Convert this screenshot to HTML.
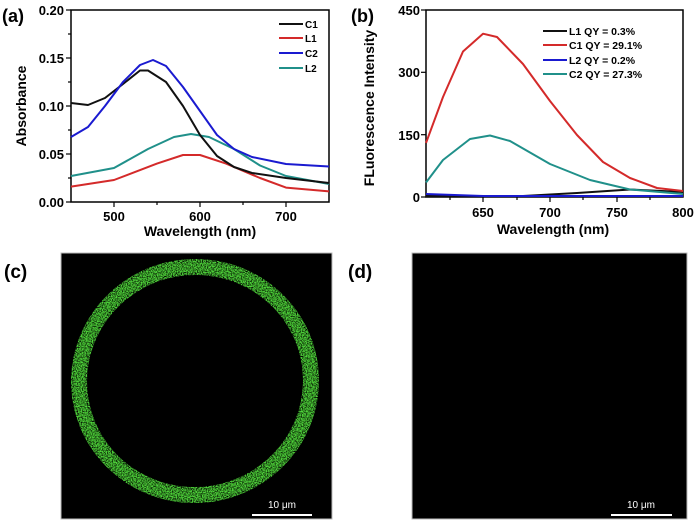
<!DOCTYPE html>
<html><head><meta charset="utf-8"><style>
body{margin:0;background:#fff;overflow:hidden;}
svg{display:block;font-family:"Liberation Sans",Arial,sans-serif;font-weight:bold;}
</style></head><body>
<svg width="700" height="520" viewBox="0 0 700 520" xmlns="http://www.w3.org/2000/svg">
<defs>
<filter id="grain" filterUnits="userSpaceOnUse" x="61" y="253" width="271" height="266">
<feTurbulence type="fractalNoise" baseFrequency="0.8" numOctaves="2" seed="3" result="n"/>
<feColorMatrix in="n" type="matrix" values="0 0 0 0 0  0 0 0 0 0  0 0 0 0 0  0 0 0 -3 2.1" result="m"/>
<feComposite in="SourceGraphic" in2="m" operator="in"/>
</filter>
</defs>
<!-- panel a -->
<text x="2" y="22" font-size="18">(a)</text>
<rect x="71" y="10" width="258" height="192" fill="none" stroke="#000" stroke-width="1.5"/>
<g stroke="#000" stroke-width="1.2">
<line x1="71" y1="202" x2="66" y2="202"/><line x1="71" y1="154" x2="66" y2="154"/><line x1="71" y1="106" x2="66" y2="106"/><line x1="71" y1="58" x2="66" y2="58"/><line x1="71" y1="10" x2="66" y2="10"/>
<line x1="71" y1="178" x2="68" y2="178"/><line x1="71" y1="130" x2="68" y2="130"/><line x1="71" y1="82" x2="68" y2="82"/><line x1="71" y1="34" x2="68" y2="34"/>
<line x1="114" y1="202" x2="114" y2="207"/><line x1="200" y1="202" x2="200" y2="207"/><line x1="286" y1="202" x2="286" y2="207"/>
<line x1="157" y1="202" x2="157" y2="205"/><line x1="243" y1="202" x2="243" y2="205"/>
</g>
<g font-size="13" text-anchor="end">
<text x="64" y="207">0.00</text><text x="64" y="159">0.05</text><text x="64" y="111">0.10</text><text x="64" y="63">0.15</text><text x="64" y="15">0.20</text>
</g>
<g font-size="13" text-anchor="middle">
<text x="114" y="221">500</text><text x="200" y="221">600</text><text x="286" y="221">700</text>
<text x="200" y="236" font-size="14">Wavelength (nm)</text>
</g>
<text transform="translate(26,106) rotate(-90)" font-size="14" text-anchor="middle">Absorbance</text>
<g fill="none" stroke-width="2" stroke-linejoin="round">
<polyline stroke="#d42a2a" points="71,186.6 114,180 157,163.6 183,155 200,155 226,163.6 260,178 286,187.6 329,191.4"/>
<polyline stroke="#20908a" points="71,176 114,168 148,149 174,137 191,134 209,137 234,149 260,165.5 286,176 329,184"/>
<polyline stroke="#111" points="71,103 88,105 105,98 123,84 140,70.5 148,70.5 166,82 183,106 200,135 217,156 234,167 252,173 286,178 329,183"/>
<polyline stroke="#1a1ad0" points="71,137 88,127 105,106 123,82 140,65 153,60 166,66 183,87 200,111 217,135 234,149 252,157 286,164 329,166.5"/>
</g>
<g stroke-width="2"><line x1="279" y1="24" x2="303" y2="24" stroke="#111"/><line x1="279" y1="38" x2="303" y2="38" stroke="#d42a2a"/><line x1="279" y1="53" x2="303" y2="53" stroke="#1a1ad0"/><line x1="279" y1="68" x2="303" y2="68" stroke="#20908a"/></g>
<g font-size="10"><text x="305" y="28">C1</text><text x="305" y="42">L1</text><text x="305" y="57">C2</text><text x="305" y="72">L2</text></g>
<!-- panel b -->
<text x="351" y="22" font-size="18">(b)</text>
<rect x="426" y="10" width="257" height="187" fill="none" stroke="#000" stroke-width="1.5"/>
<g stroke="#000" stroke-width="1.2">
<line x1="426" y1="197" x2="421" y2="197"/><line x1="426" y1="134.7" x2="421" y2="134.7"/><line x1="426" y1="72.3" x2="421" y2="72.3"/><line x1="426" y1="10" x2="421" y2="10"/>
<line x1="483" y1="197" x2="483" y2="202"/><line x1="550" y1="197" x2="550" y2="202"/><line x1="617" y1="197" x2="617" y2="202"/>
<line x1="450" y1="197" x2="450" y2="200"/><line x1="517" y1="197" x2="517" y2="200"/><line x1="583" y1="197" x2="583" y2="200"/><line x1="650" y1="197" x2="650" y2="200"/>
</g>
<g font-size="13" text-anchor="end">
<text x="420" y="202">0</text><text x="420" y="140">150</text><text x="420" y="77">300</text><text x="420" y="15">450</text>
</g>
<g font-size="13" text-anchor="middle">
<text x="483" y="217">650</text><text x="550" y="217">700</text><text x="617" y="217">750</text><text x="683" y="217">800</text>
<text x="553" y="234" font-size="14">Wavelength (nm)</text>
</g>
<text transform="translate(374,108) rotate(-90)" font-size="14" text-anchor="middle">FLuorescence Intensity</text>
<g fill="none" stroke-width="2" stroke-linejoin="round">
<polyline stroke="#111" points="426,196 523,196 577,193 630,189.5 683,192"/>
<polyline stroke="#1a1ad0" points="426,194 483,196 683,196"/>
<polyline stroke="#20908a" points="426,182.5 443,160 470,139 490,135.5 510,141 550,164 590,180 630,189.5 683,194"/>
<polyline stroke="#d42a2a" points="426,143 443,97 463,51.5 483,33.7 497,37 523,64 550,101 577,135 603,162 630,178 657,188 683,191"/>
</g>
<g stroke-width="2"><line x1="543" y1="31" x2="567" y2="31" stroke="#111"/><line x1="543" y1="45" x2="567" y2="45" stroke="#d42a2a"/><line x1="543" y1="60" x2="567" y2="60" stroke="#1a1ad0"/><line x1="543" y1="74" x2="567" y2="74" stroke="#20908a"/></g>
<g font-size="10.5"><text x="569" y="35">L1 QY = 0.3%</text><text x="569" y="49">C1 QY = 29.1%</text><text x="569" y="64">L2 QY = 0.2%</text><text x="569" y="78">C2 QY = 27.3%</text></g>
<!-- panel c -->
<text x="4" y="278" font-size="19">(c)</text>
<rect x="61" y="253" width="271" height="266" fill="#000" stroke="#bbb" stroke-width="1"/>
<ellipse cx="195" cy="381" rx="116" ry="114" fill="none" stroke="#1c5e12" stroke-width="10" opacity="0.5" transform="rotate(-8 195 381)"/>
<g filter="url(#grain)">
<ellipse cx="195" cy="381" rx="116" ry="114" fill="none" stroke="#4fd43a" stroke-width="16" transform="rotate(-8 195 381)"/>
</g>
<line x1="252" y1="515" x2="312" y2="515" stroke="#fff" stroke-width="2"/>
<text x="282" y="508" font-size="10" fill="#fff" font-weight="normal" text-anchor="middle">10 μm</text>
<!-- panel d -->
<text x="348" y="278" font-size="19">(d)</text>
<rect x="412" y="253" width="275" height="266" fill="#000" stroke="#bbb" stroke-width="1"/>
<line x1="611" y1="515" x2="672" y2="515" stroke="#fff" stroke-width="2"/>
<text x="641" y="508" font-size="10" fill="#fff" font-weight="normal" text-anchor="middle">10 μm</text>
</svg>
</body></html>
